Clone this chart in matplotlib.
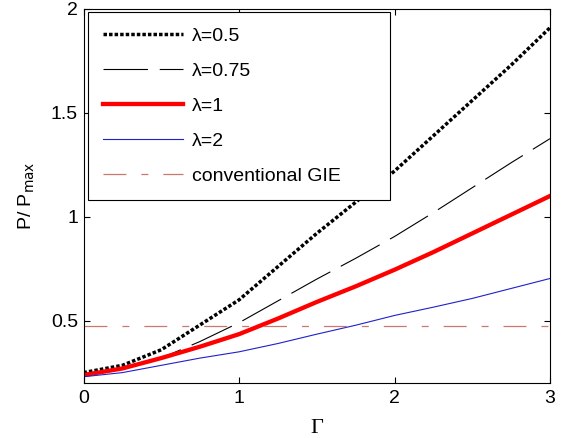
import matplotlib

matplotlib.use("Agg")
import matplotlib.pyplot as plt

plt.rcParams["font.family"] = ["Liberation Sans", "DejaVu Sans"]
plt.rcParams["lines.scale_dashes"] = False

# values
gamma = [0.0, 0.25, 0.5, 0.75, 1.0, 1.25, 1.5, 1.75, 2.0, 2.25, 2.5, 2.75, 3.0]
p_lam05 = [0.25, 0.285, 0.36, 0.48, 0.60, 0.76, 0.92, 1.07, 1.22, 1.39, 1.56, 1.73, 1.91]
p_lam075 = [0.245, 0.27, 0.32, 0.40, 0.49, 0.595, 0.70, 0.80, 0.905, 1.02, 1.14, 1.26, 1.376]
p_lam1 = [0.238, 0.27, 0.32, 0.375, 0.435, 0.51, 0.59, 0.665, 0.745, 0.83, 0.92, 1.01, 1.10]
p_lam2 = [0.23, 0.25, 0.285, 0.32, 0.35, 0.39, 0.435, 0.478, 0.525, 0.565, 0.607, 0.655, 0.703]
p_conventional = 0.476

labels = ["λ=0.5", "λ=0.75", "λ=1", "λ=2", "conventional GIE"]

fig = plt.figure(figsize=(5.62, 4.38), dpi=100)
ax = fig.add_axes([83.5 / 562, 1 - 383 / 438, (550 - 83.5) / 562, (383 - 9) / 438])

ax.plot(gamma, p_lam05, color="black", linewidth=2.5,
        linestyle=(0, (2.5, 1.5)), dash_capstyle="butt", label=labels[0])
ax.plot(gamma, p_lam075, color="black", linewidth=0.8,
        linestyle=(0, (32, 8.5)), label=labels[1])
ax.plot(gamma, p_lam1, color="#ff0000", linewidth=3.1, label=labels[2])
ax.plot(gamma, p_lam2, color="#2020cc", linewidth=0.8, label=labels[3])
ax.axhline(p_conventional, color="#c8786f", linewidth=0.9,
           linestyle=(0, (16.5, 10.8, 5, 10.8)), label=labels[4])

ax.set_xlim(0, 3)
ax.set_ylim(0.2, 2)
ax.set_xticks([0, 1, 2, 3])
ax.set_yticks([0.5, 1, 1.5, 2])
ax.set_yticklabels(["0.5", "1", "1.5", "2"])
ax.tick_params(direction="in", top=True, right=True, length=4, width=0.8,
               labelsize=14)
ax.tick_params(axis="x", pad=5)
ax.tick_params(axis="y", pad=4)
for s in ax.spines.values():
    s.set_linewidth(0.8)

ax.set_xlabel("Γ", fontsize=16, family=["Liberation Serif", "DejaVu Serif"],
              labelpad=9)
ax.set_ylabel("P/ P$_{\\mathrm{max}}$", fontsize=14, labelpad=10)

# legend frame spans x 88..390 px, top at y 12 px
leg = ax.legend(loc="upper left",
                bbox_to_anchor=(4.5 / 466.5, 0.5, 302 / 466.5, 371 / 374 - 0.5),
                mode="expand", borderaxespad=0, fontsize=14, handlelength=4.1,
                handletextpad=0.45, labelspacing=0.9, borderpad=0.78,
                fancybox=False, framealpha=1, edgecolor="black")
leg.get_frame().set_linewidth(0.8)

fig.savefig("out.png", dpi=100)
